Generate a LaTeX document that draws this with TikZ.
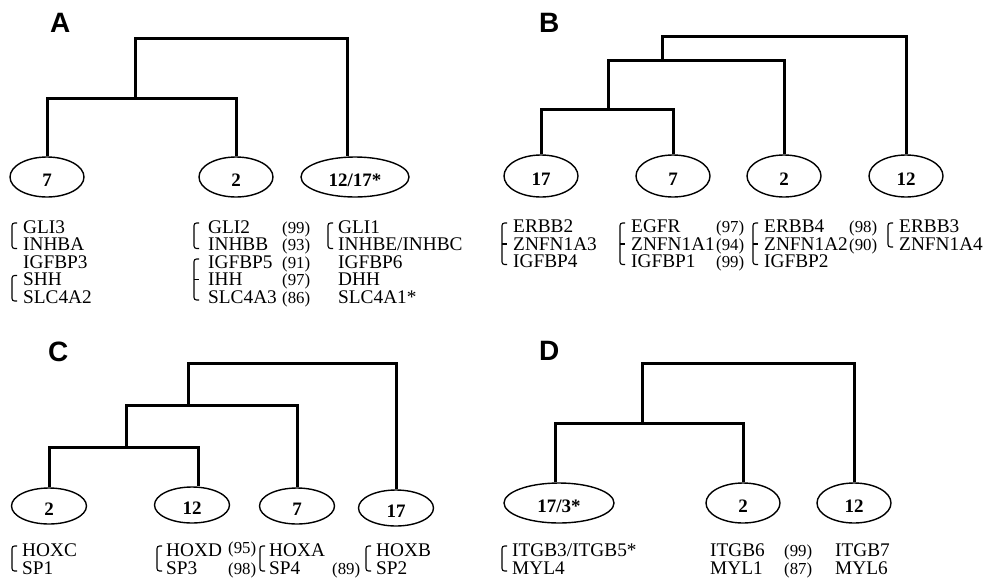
\documentclass[tikz,border=0pt]{standalone}
\usepackage{fontspec}
\setmainfont{Liberation Serif}
\newfontfamily\panelfont{Liberation Sans}
\usetikzlibrary{shapes.geometric}

% bracket joining a group of gene names: x, top y, bottom y
\newcommand\gbrack[3]{\draw[brk] (#1+5,#2) -- (#1,#2) -- (#1,#3) -- (#1+5,#3);}
% middle tick of a three-line bracket: x, y
\newcommand\gtick[2]{\draw[brk] (#1,#2) -- (#1+5,#2);}

\tikzset{
  dend/.style={line width=3pt, line join=miter, line cap=butt},
  chrom/.style={ellipse, draw, line width=1.4pt, inner sep=0pt,
    minimum width=74pt, minimum height=40pt,
    font=\fontsize{19}{19}\selectfont\bfseries,
    text height=19.5pt, text depth=0pt},
  gene/.style={anchor=base west, inner sep=0pt, text height=13pt, text depth=0pt,
    font=\fontsize{19.3}{19.3}\selectfont},
  num/.style={anchor=base west, inner sep=0pt, text height=12pt, text depth=0pt,
    font=\fontsize{16.8}{16.8}\selectfont},
  brk/.style={line width=1.1pt, rounded corners=2.5pt},
  panel/.style={anchor=base west, inner sep=0pt, font=\panelfont\fontsize{28}{28}\selectfont\bfseries}
}

\begin{document}
\begin{tikzpicture}[x=1pt, y=-1pt]
\useasboundingbox (0,0) rectangle (984,581);

% ---------------- panel A ----------------
\node[panel] (pA) at (50,32) {A};
\node[chrom] (A7)  at (47,177)  {7};
\node[chrom] (A2)  at (236,177) {2};
\node[chrom, minimum width=108pt] (A12) at (355,177) {12/17*};
\coordinate (Aa) at (135,98);
\coordinate (At) at (135,38);
\draw[dend] (A7.north) |- (Aa) -| (A2.north);
\draw[dend] (Aa) -- (At) -| ([xshift=-8pt]A12.north);

\node[gene] (a11) at (23,233)   {GLI3};
\node[gene] (a12) at (23,250.5) {INHBA};
\node[gene] (a13) at (23,268)   {IGFBP3};
\node[gene] (a14) at (23,285.5) {SHH};
\node[gene] (a15) at (23,303)   {SLC4A2};
\gbrack{12}{223}{248.5}
\gbrack{12}{275.5}{301}

\node[gene] (a21) at (208,233)   {GLI2};
\node[gene] (a22) at (208,250.5) {INHBB};
\node[gene] (a23) at (208,268)   {IGFBP5};
\node[gene] (a24) at (208,285.5) {IHH};
\node[gene] (a25) at (208,303)   {SLC4A3};
\node[num] (an1) at (282,233)   {(99)};
\node[num] (an2) at (282,250.5) {(93)};
\node[num] (an3) at (282,268)   {(91)};
\node[num] (an4) at (282,285.5) {(97)};
\node[num] (an5) at (282,303)   {(86)};
\gbrack{194}{223}{248.5}
\gbrack{194}{259}{300}
\gtick{194}{279.5}

\node[gene] (a31) at (338,233)   {GLI1};
\node[gene] (a32) at (338,250.5) {INHBE/INHBC};
\node[gene] (a33) at (338,268)   {IGFBP6};
\node[gene] (a34) at (338,285.5) {DHH};
\node[gene] (a35) at (338,303)   {SLC4A1*};
\gbrack{328}{223}{248.5}

% ---------------- panel B ----------------
\node[panel] (pB) at (539,32) {B};
\node[chrom, minimum height=42pt] (B17) at (541,176) {17};
\node[chrom, minimum height=42pt] (B7)  at (673,176) {7};
\node[chrom, minimum height=42pt] (B2)  at (784,176) {2};
\node[chrom, minimum height=42pt] (B12) at (906,176) {12};
\coordinate (Bl) at (608,109);
\coordinate (Bm) at (662,60);
\coordinate (Bt) at (662,36);
\draw[dend] (B17.north) |- (Bl) -| (B7.north);
\draw[dend] (Bl) |- (Bm) -| (B2.north);
\draw[dend] (Bm) -- (Bt) -| (B12.north);

\node[gene] (b11) at (513,232.5) {ERBB2};
\node[gene] (b12) at (513,250)   {ZNFN1A3};
\node[gene] (b13) at (513,267.5) {IGFBP4};
\gbrack{502}{223}{264.5}
\gtick{502}{244}

\node[gene] (b21) at (631,232.5) {EGFR};
\node[gene] (b22) at (631,250)   {ZNFN1A1};
\node[gene] (b23) at (631,267.5) {IGFBP1};
\node[num] (bn1) at (716,232.5) {(97)};
\node[num] (bn2) at (716,250)   {(94)};
\node[num] (bn3) at (716,267.5) {(99)};
\gbrack{620}{223}{264.5}
\gtick{620}{244}

\node[gene] (b31) at (764,232.5) {ERBB4};
\node[gene] (b32) at (764,250)   {ZNFN1A2};
\node[gene] (b33) at (764,267.5) {IGFBP2};
\node[num] (bn4) at (849,232.5) {(98)};
\node[num] (bn5) at (849,250)   {(90)};
\gbrack{753}{223}{264.5}
\gtick{753}{244}

\node[gene] (b41) at (899,232.5) {ERBB3};
\node[gene] (b42) at (899,250)   {ZNFN1A4};
\gbrack{888}{223}{247}

% ---------------- panel C ----------------
\node[panel] (pC) at (48,361) {C};
\node[chrom, minimum width=75pt, minimum height=36pt] (C2)  at (49,506)  {2};
\node[chrom, minimum width=75pt, minimum height=36pt] (C12) at (192,505) {12};
\node[chrom, minimum width=75pt, minimum height=36pt] (C7)  at (297,506) {7};
\node[chrom, minimum width=75pt, minimum height=36pt] (C17) at (396,508) {17};
\coordinate (Cl) at (126,447);
\coordinate (Cm) at (188,405);
\coordinate (Ct) at (188,363);
\draw[dend] (C2.north) |- (Cl) -| ([xshift=6pt]C12.north);
\draw[dend] (Cl) |- (Cm) -| (C7.north);
\draw[dend] (Cm) -- (Ct) -| (C17.north);

\node[gene] (c11) at (22,556) {HOXC};
\node[gene] (c12) at (22,574) {SP1};
\gbrack{12}{546}{571}

\node[gene] (c21) at (166,556) {HOXD};
\node[gene] (c22) at (166,574) {SP3};
\node[num] (cn1) at (228,553) {(95)};
\node[num] (cn2) at (228,574) {(98)};
\gbrack{157}{546}{571}

\node[gene] (c31) at (269,556) {HOXA};
\node[gene] (c32) at (269,574) {SP4};
\node[num] (cn3) at (332,574) {(89)};
\gbrack{260}{546}{571}

\node[gene] (c41) at (376,556) {HOXB};
\node[gene] (c42) at (376,574) {SP2};
\gbrack{366}{546}{571}

% ---------------- panel D ----------------
\node[panel] (pD) at (539,360) {D};
\node[chrom, minimum width=110pt] (D17) at (559,503) {17/3*};
\node[chrom] (D2)  at (743,503) {2};
\node[chrom] (D12) at (854,503) {12};
\coordinate (Dl) at (642,423);
\coordinate (Dt) at (642,363);
\draw[dend] ([xshift=-4pt]D17.north) |- (Dl) -| (D2.north);
\draw[dend] (Dl) -- (Dt) -| (D12.north);

\node[gene] (d11) at (512,556) {ITGB3/ITGB5*};
\node[gene] (d12) at (512,574) {MYL4};
\gbrack{502}{546}{571}

\node[gene] (d21) at (710,556) {ITGB6};
\node[gene] (d22) at (710,574) {MYL1};
\node[num] (dn1) at (784,556) {(99)};
\node[num] (dn2) at (784,574) {(87)};

\node[gene] (d31) at (835,556) {ITGB7};
\node[gene] (d32) at (835,574) {MYL6};
\end{tikzpicture}
\end{document}
